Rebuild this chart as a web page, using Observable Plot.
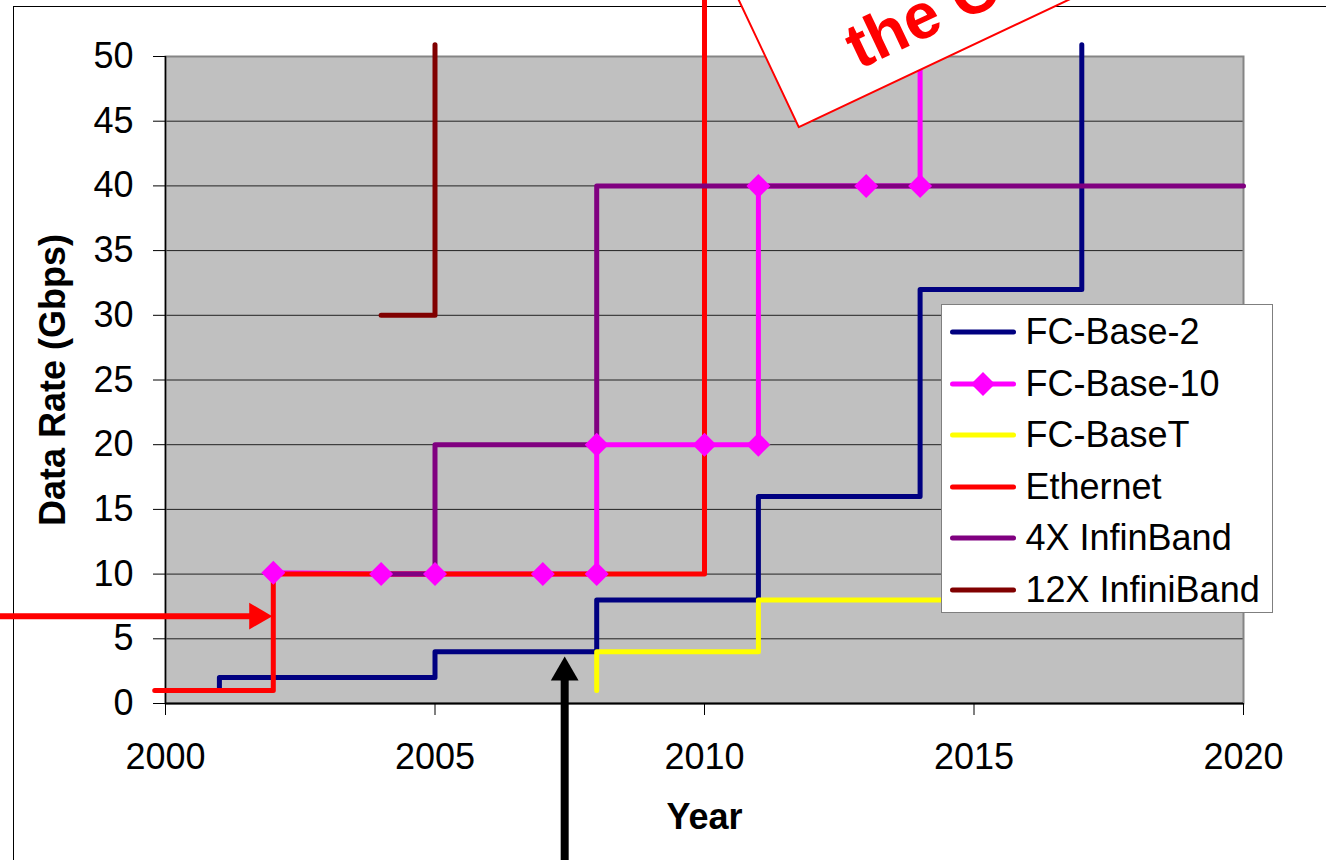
<!DOCTYPE html>
<html>
<head>
<meta charset="utf-8">
<script src="https://cdn.jsdelivr.net/npm/d3@7"></script>
<script src="https://cdn.jsdelivr.net/npm/@observablehq/plot@0.6"></script>
<style>
  html, body { margin: 0; padding: 0; background: #fff; overflow: hidden; width: 1326px; height: 860px; }
  #wrap { position: relative; width: 1326px; height: 860px; overflow: hidden; }
  #border { position: absolute; left: 12.5px; top: 5.5px; width: 2000px; height: 2000px; border: 1.5px solid #000; box-sizing: border-box; }
  #chart { position: absolute; left: 0; top: 0; }
  #legend { position: absolute; left: 941px; top: 304px; width: 332px; height: 309px; box-sizing: border-box;
            background: #fff; border: 1.5px solid #7f7f7f; padding-top: 1.5px;
            font-family: "Liberation Sans", Arial, sans-serif; font-size: 36px; color: #000; z-index: 2; }
  .row { height: 51.5px; display: flex; align-items: center; white-space: nowrap; }
  .row svg { margin-left: 8px; margin-right: 9.5px; flex: none; }
</style>
</head>
<body>
<div id="wrap">
  <div id="border"></div>
  <div id="chart"></div>
  <div id="legend"></div>
</div>
<script>
// ---------- data ----------
const seriesNames = ["FC-Base-2", "FC-Base-10", "FC-BaseT", "Ethernet", "4X InfinBand", "12X InfiniBand"];

const fcBase2Years  = [2001, 2001, 2005, 2005, 2008, 2008, 2011, 2011, 2014, 2014, 2017, 2017];
const fcBase2Rates  = [1, 2, 2, 4, 4, 8, 8, 16, 16, 32, 32, 50.9];

const fcBase10Years = [2002, 2004, 2005, 2007, 2008, 2008, 2010, 2011, 2011, 2013, 2014, 2014];
const fcBase10Rates = [10.1, 10, 10, 10, 10, 20, 20, 20, 40, 40, 40, 60];

const fcBaseTYears  = [2008, 2008, 2011, 2011, 2017];
const fcBaseTRates  = [1, 4, 4, 8, 8];

const ethernetYears = [1999.8, 2002, 2002, 2010, 2010];
const ethernetRates = [1, 1, 10, 10, 58];

const ib4xYears     = [2004, 2005, 2005, 2008, 2008, 2020];
const ib4xRates     = [10, 10, 20, 20, 40, 40];

const ib12xYears    = [2004, 2005, 2005];
const ib12xRates    = [30, 30, 50.9];

const xTicks = [2000, 2005, 2010, 2015, 2020];
const yTicks = [0, 5, 10, 15, 20, 25, 30, 35, 40, 45, 50];
const gridValues = [5, 10, 15, 20, 25, 30, 35, 40, 45];

// annotations (in data units)
const calloutYears = [2011.749, 2022.152, 2019.776, 2009.373, 2011.749];
const calloutRates = [44.54, 64.99, 85.96, 65.50, 44.54];
const calloutText = "the C";
const calloutAnchor = {year: 2012.70, rate: 50.4};
const redArrowYears = [1996.8, 2001.6];
const redArrowRate = 6.75;
const redArrowHead = {year: 2001.696, rate: 6.75};
const blackArrowYear = 2007.406;
const blackArrowRates = [-12.5, 1.8];
const blackArrowHead = {year: 2007.406, rate: 2.40};

// ---------- styles ----------
const palette = ["#000080", "#ff00ff", "#ffff00", "#ff0000", "#800080", "#800000"];
const FONT = '"Liberation Sans", Arial, sans-serif';

const toRows = (xs, ys) => xs.map((x, i) => ({year: x, rate: ys[i]}));
const seriesRows = [
  toRows(fcBase2Years, fcBase2Rates),
  toRows(fcBase10Years, fcBase10Rates),
  toRows(fcBaseTYears, fcBaseTRates),
  toRows(ethernetYears, ethernetRates),
  toRows(ib4xYears, ib4xRates),
  toRows(ib12xYears, ib12xRates)
];

const lineOpts = (i) => ({x: "year", y: "rate", stroke: palette[i], strokeWidth: 5,
  strokeLinejoin: "round", strokeLinecap: "round"});

const plot = Plot.plot({
  width: 1326,
  height: 860,
  marginLeft: 165,
  marginRight: 83,
  marginTop: 56,
  marginBottom: 157,
  style: {background: "transparent", fontFamily: FONT, fontSize: "36px", color: "#000", overflow: "hidden"},
  x: {domain: [2000, 2020], axis: null},
  y: {domain: [0, 50], axis: null},
  marks: [
    Plot.frame({fill: "#c0c0c0"}),
    Plot.ruleY(gridValues, {stroke: "#222", strokeWidth: 1}),
    Plot.frame({stroke: "#858585", strokeWidth: 2}),
    Plot.ruleX([2000], {stroke: "#000", strokeWidth: 1.5}),
    Plot.ruleY([0], {stroke: "#000", strokeWidth: 2}),
    Plot.axisY(yTicks, {tickSize: 12, tickPadding: 20, label: null, fontSize: 36, tickFormat: d => String(d)}),
    Plot.axisX(xTicks, {tickSize: 12, tickPadding: 28, label: null, fontSize: 36, tickFormat: d => String(d)}),
    Plot.text(["Year"], {text: d => d, frameAnchor: "bottom", dy: 114, fontWeight: "bold", fontSize: 36, lineAnchor: "middle"}),
    Plot.text(["Data Rate (Gbps)"], {text: d => d, frameAnchor: "left", dx: -112, rotate: -90, fontWeight: "bold",
      fontSize: 36, textAnchor: "middle", lineAnchor: "middle"}),
    // series lines, in the original drawing order
    ...seriesRows.map((rows, i) => Plot.line(rows, lineOpts(i))),
    Plot.dot(seriesRows[1], {x: "year", y: "rate", symbol: "diamond2", r: 10.8, fill: palette[1]}),
    // callout box
    Plot.line(toRows(calloutYears, calloutRates), {x: "year", y: "rate", fill: "#fff", stroke: "#ff0000", strokeWidth: 2, strokeLinejoin: "miter"}),
    Plot.text([calloutAnchor], {x: "year", y: "rate", text: () => calloutText, rotate: -25.27, fill: "#ff0000",
      fontWeight: "bold", fontSize: 64, textAnchor: "start", lineAnchor: "middle"}),
    // red arrow
    Plot.line(redArrowYears.map(x => ({year: x, rate: redArrowRate})), {x: "year", y: "rate", stroke: "#ff0000", strokeWidth: 6}),
    Plot.dot([redArrowHead], {x: "year", y: "rate", symbol: "triangle", r: 9.9, rotate: 90, fill: "#ff0000"}),
    // black arrow
    Plot.line(blackArrowRates.map(r => ({year: blackArrowYear, rate: r})), {x: "year", y: "rate", stroke: "#000", strokeWidth: 8}),
    Plot.dot([blackArrowHead], {x: "year", y: "rate", symbol: "triangle", r: 10.3, fill: "#000"})
  ]
});
document.getElementById("chart").appendChild(plot);

// ---------- legend ----------
const legend = d3.select("#legend");
seriesNames.forEach((name, i) => {
  const row = legend.append("div").attr("class", "row");
  const svg = row.append("svg").attr("width", 66).attr("height", 30);
  svg.append("line").attr("x1", 2.5).attr("x2", 63.5).attr("y1", 15).attr("y2", 15)
    .attr("stroke", palette[i]).attr("stroke-width", 5).attr("stroke-linecap", "round");
  if (i === 1) {
    svg.append("path").attr("transform", "translate(33,15)")
      .attr("d", d3.symbol(d3.symbolDiamond2, Math.PI * 10.8 * 10.8)())
      .attr("fill", palette[i]);
  }
  row.append("span").text(name);
});
</script>
</body>
</html>
